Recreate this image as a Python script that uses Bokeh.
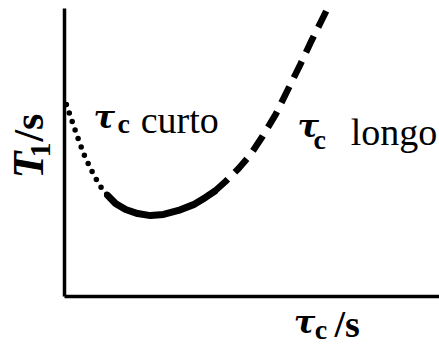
from bokeh.plotting import figure
from bokeh.models import Label, Range1d
from bokeh.embed import file_html
from bokeh.resources import INLINE

# Relaxation time T1 versus correlation time tau_c (schematic, arbitrary units)
tau_short = [0.05, 0.16, 0.27, 0.40, 0.53, 0.67, 0.80, 0.96, 1.15]
t1_short = [6.67, 6.25, 5.83, 5.35, 4.90, 4.51, 4.17, 3.82, 3.51]

tau_mid = [1.15, 1.36, 1.63, 1.95, 2.29, 2.64, 3.04, 3.44, 3.76, 4.00]
t1_mid = [3.51, 3.23, 3.02, 2.88, 2.81, 2.85, 2.99, 3.19, 3.44, 3.65]

tau_long = [4.00, 4.29, 4.64, 4.96, 5.28, 5.63, 5.97, 6.29, 6.59, 6.88, 7.04]
t1_long = [3.65, 3.99, 4.44, 4.93, 5.56, 6.32, 7.22, 8.06, 8.89, 9.65, 10.07]

x_axis_end = 10.0
y_axis_end = 10.0

SERIF = "Liberation Serif"
GREEK = "DejaVu Serif"

p = figure(width=439, height=352, output_backend="svg", toolbar_location=None,
           min_border=0, min_border_left=0, min_border_right=0,
           min_border_top=0, min_border_bottom=0)
p.x_range = Range1d(-1.7067, 10.0)
p.y_range = Range1d(-1.944, 10.278)
p.axis.visible = False
p.grid.visible = False
p.outline_line_color = None
p.background_fill_color = "white"
p.border_fill_color = "white"

# axes
p.line([0, x_axis_end], [0, 0], line_color="black", line_width=3.5)
p.line([0, 0], [0, y_axis_end], line_color="black", line_width=3.5)

# curve: dotted (short tau_c), solid (minimum), dashed (long tau_c)
p.line(tau_short, t1_short, line_color="black", line_width=5.5,
       line_dash="0 9", line_cap="round")
p.line(tau_mid, t1_mid, line_color="black", line_width=7, line_cap="round")
p.line(tau_long, t1_long, line_color="black", line_width=6.5,
       line_dash="18 10")


def lab(x, y, text, size, style="normal", angle=0.0, font=SERIF):
    p.add_layout(Label(x=x, y=y, text=text, text_font=font,
                       text_font_size=f"{size}px", text_font_style=style,
                       text_color="black", text_baseline="alphabetic",
                       text_align="left", angle=angle))


# curve annotations
lab(0.77, 6.22, "τ", 32, "bold italic", font=GREEK)
lab(1.41, 6.00, "c", 28, "bold")
lab(2.03, 6.12, "curto", 38)

lab(6.21, 5.91, "τ", 32, "bold italic", font=GREEK)
lab(6.64, 5.44, "c", 28, "bold")
lab(7.63, 5.70, "longo", 38)

# axis titles
lab(6.11, -0.90, "τ", 32, "bold italic", font=GREEK)
lab(6.67, -1.15, "c", 28, "bold")
lab(7.20, -0.96, "/s", 38, "bold")

lab(-0.97, 4.10, "T", 44, "bold italic", angle=1.5708)
lab(-0.65, 4.83, "1", 30, "bold", angle=1.5708)
lab(-0.95, 5.38, "/s", 42, "bold", angle=1.5708)

open("out.html", "w").write(file_html(p, INLINE))
